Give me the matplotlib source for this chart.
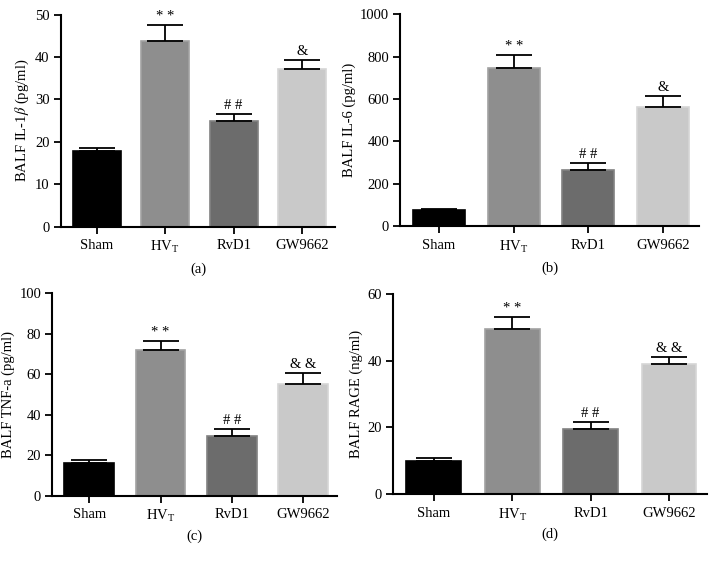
import matplotlib.pyplot as plt

# Dados
groups = ['Sham', 'HV$_\\mathregular{T}$', 'RvD1', 'GW9662']
il1b = [17.8, 43.8, 24.9, 37.2]
il1b_err = [0.8, 3.7, 1.7, 2.0]
il6 = [74, 747, 266, 561]
il6_err = [6, 58, 33, 51]
tnfa = [16.1, 72.1, 29.7, 55.4]
tnfa_err = [1.6, 4.1, 3.1, 5.3]
rage = [10.0, 49.6, 19.5, 38.9]
rage_err = [0.8, 3.5, 2.0, 2.3]

marks_a = ['', '* *', '# #', '&']
marks_b = ['', '* *', '# #', '&']
marks_c = ['', '* *', '# #', '& &']
marks_d = ['', '* *', '# #', '& &']

fills = ['#000000', '#8e8e8e', '#6c6c6c', '#c9c9c9']
edges = ['#000000', '#a2a2a2', '#828282', '#d6d6d6']

plt.rcParams['font.family'] = ['Liberation Serif', 'DejaVu Serif']
plt.rcParams['mathtext.fontset'] = 'stix'

fig = plt.figure(figsize=(7.16, 5.64), dpi=100)

panels = [
    ([0.085, 0.598, 0.383, 0.376], il1b, il1b_err, marks_a, 50, 10, 'BALF IL-1$\\beta$ (pg/ml)', '(a)'),
    ([0.559, 0.599, 0.417, 0.376], il6, il6_err, marks_b, 1000, 200, 'BALF IL-6 (pg/ml)', '(b)'),
    ([0.073, 0.121, 0.398, 0.359], tnfa, tnfa_err, marks_c, 100, 20, 'BALF TNF-a (pg/ml)', '(c)'),
    ([0.549, 0.124, 0.438, 0.355], rage, rage_err, marks_d, 60, 20, 'BALF RAGE (ng/ml)', '(d)'),
]

for rect, vals, errs, marks, ymax, step, ylabel, tag in panels:
    ax = fig.add_axes(rect)
    x = range(len(groups))
    ax.bar(x, vals, width=0.7, color=fills, edgecolor=edges, linewidth=1.2, zorder=2)
    ax.errorbar(x, vals, yerr=[[0] * len(errs), errs], fmt='none', ecolor='black',
                elinewidth=1.3, capsize=13, capthick=1.3, zorder=3)
    for i in x:
        if marks[i]:
            ax.text(i, vals[i] + errs[i] + ymax * 0.01, marks[i], ha='center', va='bottom',
                    fontsize=10.5)
    ax.set_xlim(-0.52, 3.48)
    ax.set_ylim(0, ymax)
    ax.set_yticks(range(0, ymax + 1, step))
    ax.set_xticks(list(x))
    ax.set_xticklabels(groups, fontsize=10.5)
    ax.tick_params(axis='y', labelsize=10.5, width=1.3, length=5, direction='out', pad=3)
    ax.tick_params(axis='x', width=1.3, length=5, direction='out', pad=4)
    ax.set_ylabel(ylabel, fontsize=10.5, labelpad=3)
    for s in ['top', 'right']:
        ax.spines[s].set_visible(False)
    for s in ['left', 'bottom']:
        ax.spines[s].set_linewidth(1.5)
    ax.text(0.5, -0.2, tag, transform=ax.transAxes, ha='center', va='center', fontsize=10.5)

plt.savefig('out.png', dpi=100)
